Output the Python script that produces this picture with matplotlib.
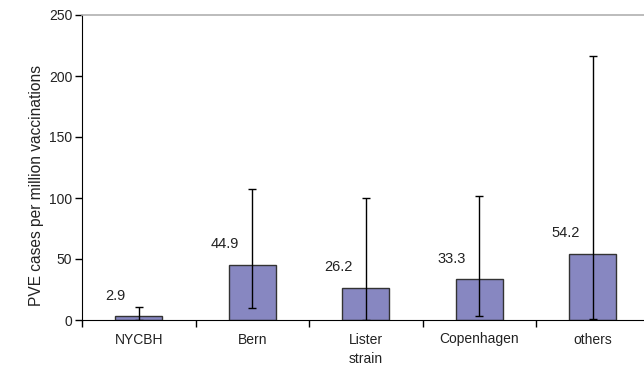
import matplotlib
matplotlib.use("Agg")
import matplotlib.pyplot as plt
import numpy as np

categories = ["NYCBH", "Bern", "Lister", "Copenhagen", "others"]
values = [2.9, 44.9, 26.2, 33.3, 54.2]
upper = [10.5, 107, 100, 102, 216]
lower = [0, 9.5, 0, 3, 1]
labels = ["2.9", "44.9", "26.2", "33.3", "54.2"]
yticks = [0, 50, 100, 150, 200, 250]

plt.rcParams['font.family'] = ['Liberation Sans', 'DejaVu Sans']

fig = plt.figure(figsize=(6.44, 3.71), dpi=100)
W, H = 644, 371
left, right, top, bottom = 82, 649.5, 15, 320
ax = fig.add_axes([left / W, 1 - bottom / H, (right - left) / W, (bottom - top) / H])

x = np.arange(len(categories))
vals = np.array(values)
err = np.array([vals - np.array(lower), np.array(upper) - vals])
ax.bar(x, vals, width=0.41, color="#8787c1", edgecolor="#333333", linewidth=1.0, zorder=2)
ax.errorbar(x, vals, yerr=err, fmt="none", ecolor="black", elinewidth=1.0,
            capsize=3, capthick=1.0, zorder=3)

for xi, v, lab in zip(x, values, labels):
    ax.annotate(lab, (xi, v + 17), xytext=(-13, 0), textcoords="offset pixels",
                ha="right", va="center", fontsize=10.5, color="#222222")

ax.set_xlim(-0.5, len(categories) - 0.5)
ax.set_ylim(0, 250)
ax.set_yticks(yticks)
ax.set_xticks(np.arange(len(categories) + 1) - 0.5, minor=False)
ax.set_xticklabels([])
ax.set_xticks(x, minor=True)
ax.set_xticklabels(categories, minor=True)
ax.tick_params(axis="x", which="minor", length=0, pad=9, labelsize=10, labelcolor="#222222")
ax.tick_params(axis="x", which="major", length=5, direction="out", width=1)
ax.tick_params(axis="y", length=5, direction="out", width=1, labelsize=10, labelcolor="#222222", pad=2)

for s in ["right"]:
    ax.spines[s].set_visible(False)
ax.spines["top"].set_color("#b0b0b0")
ax.spines["top"].set_linewidth(1.2)
ax.spines["left"].set_color("black")
ax.spines["bottom"].set_color("black")

ax.set_ylabel("PVE cases per million vaccinations", fontsize=11.2, color="#222222", va="center")
ax.yaxis.set_label_coords(-0.081, 0.44)
ax.set_xlabel("strain", fontsize=10, color="#222222", labelpad=4)

fig.savefig("out.png", dpi=100)
